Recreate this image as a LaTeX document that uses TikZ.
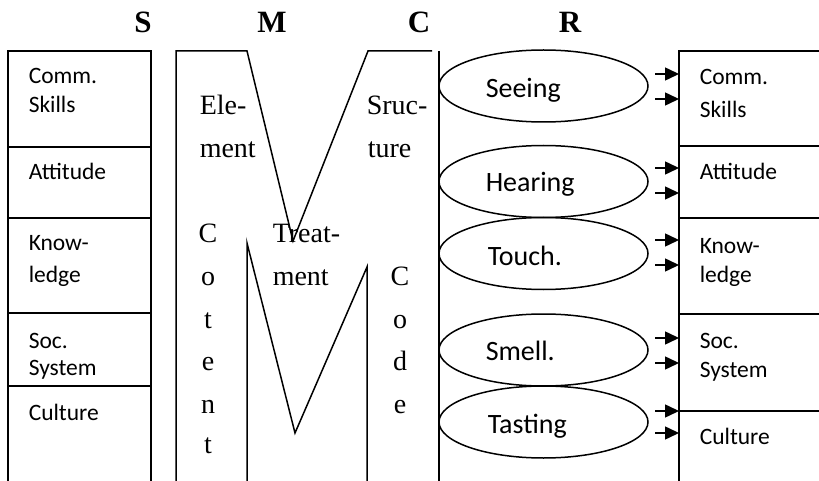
\documentclass[tikz,border=0pt]{standalone}
\usepackage{fontspec}
\setmainfont{Liberation Serif}
\newfontfamily\calibri{Carlito}
\usetikzlibrary{arrows.meta,shapes.geometric}
\begin{document}
\begin{tikzpicture}[x=1pt,y=-1pt,line width=1.5pt,
  heading/.style={font=\fontsize{31}{31}\selectfont\bfseries, anchor=base, inner sep=0pt},
  boxtext/.style={font=\calibri\fontsize{23.5}{29}\selectfont, anchor=base west, inner sep=0pt},
  sense/.style={draw, ellipse, minimum width=209pt, minimum height=72pt, inner sep=0pt},
  sensetext/.style={font=\calibri\fontsize{28}{28}\selectfont, anchor=base west, inner sep=0pt},
  msg/.style={font=\fontsize{28}{28}\selectfont, anchor=base west, inner sep=0pt},
  letter/.style={font=\fontsize{28}{28}\selectfont, anchor=base, inner sep=0pt},
  feed/.style={-{Triangle[length=14pt,width=13pt]}}
]
\useasboundingbox (0,0) rectangle (819,481);

% headings
\node[heading] (hS) at (143,33) {S};
\node[heading] (hM) at (272,33) {M};
\node[heading] (hC) at (419,33) {C};
\node[heading] (hR) at (570,33) {R};

% source column
\draw (8,481) -- (8,51) -- (151,51) -- (151,481);
\foreach \y in {147,218,313,386} \draw (8,\y) -- (151,\y);
\node[boxtext] (sa1) at (28,84) {Comm.};
\node[boxtext] (sa2) at (28,113) {Skills};
\node[boxtext] (sb) at (28,180) {Attitude};
\node[boxtext] (sc1) at (28,250) {Know-};
\node[boxtext] (sc2) at (28,282) {ledge};
\node[boxtext] (sd1) at (28,348) {Soc.};
\node[boxtext] (sd2) at (28,375) {System};
\node[boxtext] (se) at (28,420) {Culture};

% message column (M-shaped frame)
\draw (176,481) -- (176,51) -- (247,51) -- (293,241) -- (368,51) -- (432,51);
\draw (247,481) -- (247,243) -- (295,433) -- (367,267) -- (367,481);
\node[msg] (m1) at (199,115) {Ele-};
\node[msg] (m2) at (199,158) {ment};
\node[msg] (m3) at (366,115) {Sruc-};
\node[msg] (m4) at (367,158) {ture};
\node[msg] (m5) at (272,243) {Treat-};
\node[msg] (m6) at (272,285) {ment};
\foreach \ch/\y [count=\i] in {C/243,o/285,t/328,e/370,n/413,t/453}
  \node[letter] (ct\i) at (208,\y) {\ch};
\foreach \ch/\y [count=\i] in {C/285,o/328,d/370,e/413}
  \node[letter] (cd\i) at (400,\y) {\ch};

% channel column
\draw (439,51) -- (439,481);
\node[sense] (see) at (543.5,86) {};
\node[sense] (hear) at (543.5,181.5) {};
\node[sense] (touch) at (543.5,253.5) {};
\node[sense] (smell) at (543.5,350) {};
\node[sense] (taste) at (543.5,422) {};
\node[sensetext] (tsee) at (485,98) {Seeing};
\node[sensetext] (thear) at (485,192) {Hearing};
\node[sensetext] (ttouch) at (487,265) {Touch.};
\node[sensetext] (tsmell) at (485,360) {Smell.};
\node[sensetext] (ttaste) at (487,433) {Tasting};

% receiver column
\coordinate (rc) at (679,51);
\draw (679,481) -- (rc) -- (819,51);
\foreach \y in {146,218,314,411} \draw (679,\y) -- (819,\y);
\node[boxtext] (ra1) at (699,85) {Comm.};
\node[boxtext] (ra2) at (699,118) {Skills};
\node[boxtext] (rb) at (699,180) {Attitude};
\node[boxtext] (rc1) at (699,253) {Know-};
\node[boxtext] (rc2) at (699,282) {ledge};
\node[boxtext] (rd1) at (699,348) {Soc.};
\node[boxtext] (rd2) at (699,377) {System};
\node[boxtext] (re) at (699,444) {Culture};

% arrows into the receiver
\foreach \y [count=\i] in {74,99,168,193,240,265,338,363,411,433} {
  \coordinate (f\i) at (655,\y);
  \draw[feed] (f\i) -- (f\i -| rc);
}
\end{tikzpicture}
\end{document}
